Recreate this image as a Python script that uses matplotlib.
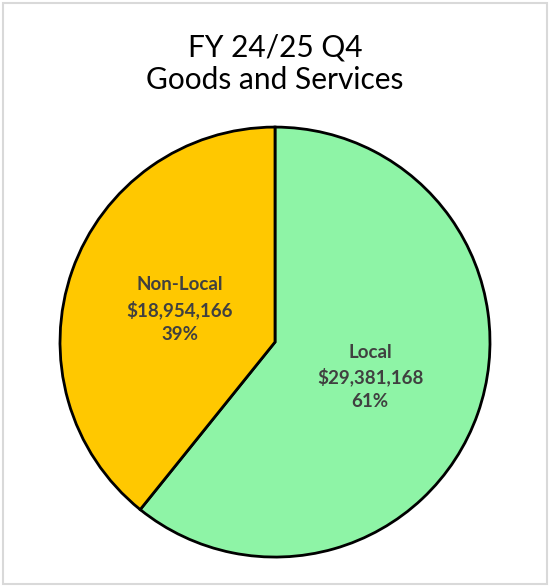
import numpy as np
import matplotlib.pyplot as plt
from matplotlib.patches import Rectangle

plt.rcParams['font.family'] = ['Lato', 'DejaVu Sans']

# data
categories = ['Local', 'Non-Local']
amounts = [29381168, 18954166]
percents = [61, 39]
colors = ['#8EF4A6', '#FFC800']

fig = plt.figure(figsize=(5.5, 5.87), dpi=100)
ax = fig.add_axes([0.109, 0.051, 0.782, 0.7325])

wedges, _ = ax.pie(amounts, colors=colors, startangle=90, counterclock=False,
                   wedgeprops=dict(edgecolor='black', linewidth=2))
ax.set_xlim(-1, 1)
ax.set_ylim(-1, 1)
ax.set_aspect('equal')

# labels inside each wedge
for w, name, amt, pct in zip(wedges, categories, amounts, percents):
    ang = np.deg2rad((w.theta1 + w.theta2) / 2)
    r = 0.47
    ax.text(r*np.cos(ang), r*np.sin(ang) - 0.005, f'{name}\n${amt:,}\n{pct}%',
            ha='center', va='center', fontsize=13.5, fontweight='bold',
            color='#404040', linespacing=1.45)

fig.text(0.5, 0.892, 'FY 24/25 Q4\nGoods and Services', ha='center', va='center',
         fontsize=21.5, color='black', linespacing=1.2)

# chart border
fig.patches.append(Rectangle((0.005, 0.005), 0.99, 0.99, transform=fig.transFigure,
                             fill=False, edgecolor='#D9D9D9', linewidth=1.5))

fig.savefig('out.png', dpi=100)
